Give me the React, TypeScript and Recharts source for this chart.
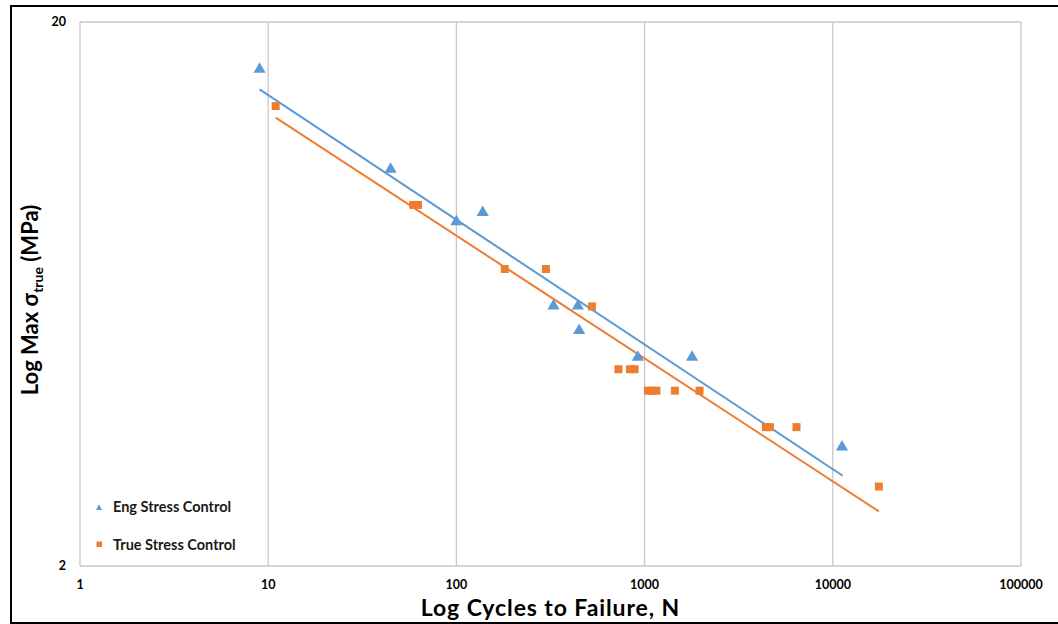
import React from 'react';
import { ScatterChart, Scatter, XAxis, YAxis, CartesianGrid, Legend, Label } from 'recharts';

const xTicks = [1, 10, 100, 1000, 10000, 100000];
const yTicks = [2, 20];

const engCycles = [9, 44.7, 100, 138, 328, 442, 449, 921, 1788, 11190];
const engStress = [16.37, 10.72, 8.59, 8.93, 6.01, 6.01, 5.42, 4.84, 4.84, 3.31];

const trueCycles = [10.96, 59, 62.5, 180.7, 299, 525, 726, 836, 885, 1042, 1097, 1156, 1449, 1958, 4413, 4634, 6412, 17570];
const trueStress = [14.01, 9.22, 9.22, 7.03, 7.03, 6.0, 4.6, 4.6, 4.6, 4.2, 4.2, 4.2, 4.2, 4.2, 3.6, 3.6, 3.6, 2.8];

const engTrendCycles = [9, 11290];
const engTrendStress = [15.04, 2.93];
const trueTrendCycles = [10.96, 17570];
const trueTrendStress = [13.34, 2.52];

const seriesNames = ['Eng Stress Control', 'True Stress Control'];

const BLUE = '#5B9BD5';
const ORANGE = '#ED7D31';
const FONT = 'Lato, "Liberation Sans", sans-serif';

const toPoints = (xs: number[], ys: number[]) => xs.map((x, i) => ({ x, y: ys[i] }));

const engData = toPoints(engCycles, engStress);
const trueData = toPoints(trueCycles, trueStress);
const engTrend = toPoints(engTrendCycles, engTrendStress);
const trueTrend = toPoints(trueTrendCycles, trueTrendStress);

const NoShape = () => <g />;

const renderLegend = (props: any) => {
  const items = (props.payload || []).filter((p: any) => p.type !== 'none');
  return (
    <div style={{ fontFamily: FONT, fontWeight: 700, fontSize: 14.5, color: '#1a1a1a' }}>
      {items.map((p: any, i: number) => (
        <div key={i} style={{ display: 'flex', alignItems: 'center', height: 37.5 }}>
          <svg width={8} height={8} style={{ marginRight: 10 }}>
            {p.type === 'triangle' ? (
              <polygon points="4,1.2 7,7 1,7" fill={p.color} />
            ) : (
              <rect x={1.5} y={1.5} width={5.5} height={5.5} fill={p.color} />
            )}
          </svg>
          <span>{p.value}</span>
        </div>
      ))}
    </div>
  );
};

const YTitle = () => (
  <text
    transform="translate(38,300) rotate(-90)"
    textAnchor="middle"
    fontFamily={FONT}
    fontWeight={700}
    fontSize={22}
    fill="#000"
  >
    Log Max σ
    <tspan dy={5} fontSize={14}>true</tspan>
    <tspan dy={-5}> (MPa)</tspan>
  </text>
);

export default function App() {
  return (
    <div style={{ position: 'absolute', left: 0, top: 0, width: 1058, height: 624, background: '#fff' }}>
      <ScatterChart width={1058} height={624} margin={{ top: 22, right: 37, bottom: 0, left: 0 }}>
        <CartesianGrid stroke="#c8c8c8" strokeWidth={1.3} horizontalValues={yTicks} verticalValues={xTicks} />
        <XAxis
          type="number"
          dataKey="x"
          scale="log"
          domain={[1, 100000]}
          ticks={xTicks}
          interval={0}
          allowDataOverflow
          height={58}
          axisLine={false}
          tickLine={false}
          tickSize={0}
          tickMargin={14}
          tick={{ fontFamily: FONT, fontWeight: 700, fontSize: 12.5, fill: '#000' }}
        >
          <Label
            value="Log Cycles to Failure, N"
            position="insideBottom"
            offset={8}
            style={{ fontFamily: FONT, fontWeight: 700, fontSize: 23, letterSpacing: 0.9, fill: '#000' }}
          />
        </XAxis>
        <YAxis
          type="number"
          dataKey="y"
          scale="log"
          domain={[2, 20]}
          ticks={yTicks}
          interval={0}
          allowDataOverflow
          width={80}
          axisLine={false}
          tickLine={false}
          tickSize={0}
          tickMargin={14}
          tick={{ fontFamily: FONT, fontWeight: 700, fontSize: 12.5, fill: '#000' }}
        >
          <Label content={() => <YTitle />} />
        </YAxis>
        <Legend
          layout="vertical"
          align="center"
          verticalAlign="middle"
          content={renderLegend}
          wrapperStyle={{ left: 95, top: 488, width: 220 }}
        />
        <Scatter
          name={seriesNames[0] + ' trend'}
          data={engTrend}
          line={{ stroke: BLUE, strokeWidth: 2 }}
          shape={NoShape}
          legendType="none"
          isAnimationActive={false}
        />
        <Scatter
          name={seriesNames[1] + ' trend'}
          data={trueTrend}
          line={{ stroke: ORANGE, strokeWidth: 2 }}
          shape={NoShape}
          legendType="none"
          isAnimationActive={false}
        />
        <Scatter
          name={seriesNames[0]}
          data={engData}
          fill={BLUE}
          shape="triangle"
          legendType="triangle"
          size={18}
          isAnimationActive={false}
        />
        <Scatter
          name={seriesNames[1]}
          data={trueData}
          fill={ORANGE}
          shape="square"
          legendType="square"
          size={36}
          isAnimationActive={false}
        />
      </ScatterChart>
      <div
        style={{
          position: 'absolute',
          left: 10,
          top: 4.5,
          width: 1048,
          height: 619,
          boxSizing: 'border-box',
          borderTop: '2.5px solid #000',
          borderLeft: '2.5px solid #000',
          borderBottom: '2.5px solid #000',
          pointerEvents: 'none',
        }}
      />
    </div>
  );
}
